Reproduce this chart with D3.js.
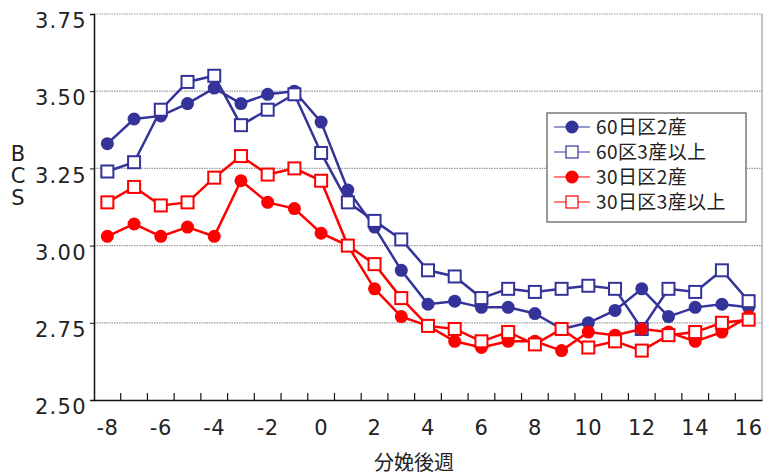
<!DOCTYPE html>
<html><head><meta charset="utf-8">
<script src="https://cdn.jsdelivr.net/npm/d3@7"></script>
<style>
body{margin:0;background:#fff;}
text{font-family:"Noto Sans CJK JP","Noto Sans",sans-serif;fill:#222;}
</style></head>
<body><svg id="c" width="771" height="476"></svg>
<script>
const weeks = [-8,-7,-6,-5,-4,-3,-2,-1,0,1,2,3,4,5,6,7,8,9,10,11,12,13,14,15,16];
const s60_2  = [3.33,3.41,3.42,3.46,3.51,3.46,3.49,3.50,3.40,3.18,3.06,2.92,2.81,2.82,2.80,2.80,2.78,2.73,2.75,2.79,2.86,2.77,2.80,2.81,2.80];
const s60_3  = [3.24,3.27,3.44,3.53,3.55,3.39,3.44,3.49,3.30,3.14,3.08,3.02,2.92,2.90,2.83,2.86,2.85,2.86,2.87,2.86,2.73,2.86,2.85,2.92,2.82];
const s30_2  = [3.03,3.07,3.03,3.06,3.03,3.21,3.14,3.12,3.04,3.00,2.86,2.77,2.74,2.69,2.67,2.69,2.69,2.66,2.72,2.71,2.73,2.72,2.69,2.72,2.77];
const s30_3  = [3.14,3.19,3.13,3.14,3.22,3.29,3.23,3.25,3.21,3.00,2.94,2.83,2.74,2.73,2.69,2.72,2.68,2.73,2.67,2.69,2.66,2.71,2.72,2.75,2.76];
const seriesNames = ["60日区2産","60区3産以上","30日区2産","30日区3産以上"];
const yTicks = [2.50,2.75,3.00,3.25,3.50,3.75];
const xLabels = [-8,-6,-4,-2,0,2,4,6,8,10,12,14,16];
const yTitle = ["B","C","S"];
const xTitle = "分娩後週";

const BLUE = "#333399", RED = "#ff0000";
const series = [
  {name: seriesNames[0], values: s60_2, color: BLUE, marker: "circle"},
  {name: seriesNames[1], values: s60_3, color: BLUE, marker: "square"},
  {name: seriesNames[2], values: s30_2, color: RED,  marker: "circle"},
  {name: seriesNames[3], values: s30_3, color: RED,  marker: "square"}
];

const L = 94, R = 762, T = 14, B = 400;
const svg = d3.select("#c");
const x = d3.scaleBand().domain(weeks).range([L, R]).padding(0);
const xc = w => x(w) + x.bandwidth()/2;
const y = d3.scaleLinear().domain([2.5, 3.75]).range([B, T]);

// gridlines
svg.append("g").selectAll("line").data(yTicks.filter(v => v > 2.5)).join("line")
  .attr("x1", L).attr("x2", R).attr("y1", d => y(d)).attr("y2", d => y(d))
  .attr("stroke", "#999").attr("stroke-width", 1.2).attr("stroke-dasharray", "1.5,1");
// right border
svg.append("line").attr("x1", R).attr("x2", R).attr("y1", T).attr("y2", B)
  .attr("stroke", "#999").attr("stroke-width", 1.2);

// y axis
const yAxis = svg.append("g").attr("transform", `translate(${L},0)`)
  .call(d3.axisLeft(y).tickValues(yTicks).tickFormat(d3.format(".2f")).tickSize(4).tickPadding(4));
yAxis.select(".domain").attr("stroke", "#111").attr("stroke-width", 1.5);
yAxis.selectAll(".tick line").attr("stroke", "#111");
yAxis.selectAll(".tick text").attr("font-size", 21).attr("dy", "0.65em").attr("fill", "#222")
  .attr("letter-spacing", "0.5px").style("font-family", '"DejaVu Sans", sans-serif').attr("textLength", 51);

// x axis
const xAxis = svg.append("g").attr("transform", `translate(0,${B})`)
  .call(d3.axisBottom(x).tickValues(xLabels).tickSize(0).tickPadding(20));
xAxis.select(".domain").attr("stroke", "#111").attr("stroke-width", 1.5);
xAxis.selectAll(".tick text").attr("font-size", 21).attr("fill", "#222")
  .style("font-family", '"DejaVu Sans", sans-serif').attr("letter-spacing", "0.5px");
// category boundary ticks pointing up
svg.append("g").selectAll("line").data(weeks.slice(1)).join("line")
  .attr("x1", d => x(d)).attr("x2", d => x(d)).attr("y1", B).attr("y2", B - 7)
  .attr("stroke", "#111").attr("stroke-width", 1.2);

// titles
svg.append("text").attr("x", 18).attr("font-size", 21).attr("text-anchor", "middle")
  .selectAll("tspan").data(yTitle).join("tspan")
  .attr("x", 18).attr("y", (d, i) => 161 + i * 22).text(d => d)
  .style("font-family", '"DejaVu Sans", sans-serif');
svg.append("text").attr("x", 414).attr("y", 470).attr("text-anchor", "middle")
  .attr("font-size", 20).text(xTitle);

// series
const line = d3.line().x((d, i) => xc(weeks[i])).y(d => y(d));
function drawMarker(g, type, color, size) {
  if (type === "circle") {
    g.append("circle").attr("r", size).attr("fill", color).attr("stroke", "none");
  } else {
    g.append("rect").attr("x", -size).attr("y", -size).attr("width", 2*size).attr("height", 2*size)
      .attr("fill", "#fff").attr("stroke", color).attr("stroke-width", 2);
  }
}
series.forEach(s => {
  svg.append("path").datum(s.values).attr("d", line).attr("fill", "none")
    .attr("stroke", s.color).attr("stroke-width", 2.5);
});
series.forEach(s => {
  const gm = svg.append("g");
  s.values.forEach((v, i) => {
    const g = gm.append("g").attr("transform", `translate(${xc(weeks[i])},${y(v)})`);
    drawMarker(g, s.marker, s.color, s.marker === "circle" ? 6.5 : 6);
  });
});

// legend
const lg = svg.append("g");
lg.append("rect").attr("x", 547).attr("y", 113).attr("width", 199).attr("height", 109)
  .attr("fill", "#fff").attr("stroke", "#555").attr("stroke-width", 1.2);
series.forEach((s, i) => {
  const cy = 127 + i * 25;
  lg.append("line").attr("x1", 554).attr("x2", 590).attr("y1", cy).attr("y2", cy)
    .attr("stroke", s.color).attr("stroke-width", 1.2);
  const g = lg.append("g").attr("transform", `translate(572,${cy})`);
  drawMarker(g, s.marker, s.color, s.marker === "circle" ? 6.5 : 6);
  if (s.marker === "square") g.select("rect").attr("stroke-width", 1.2);
  lg.append("text").attr("x", 596).attr("y", cy).attr("dy", "0.36em")
    .attr("font-size", 19).attr("letter-spacing", "0.4px").text(s.name);
});
</script></body></html>
